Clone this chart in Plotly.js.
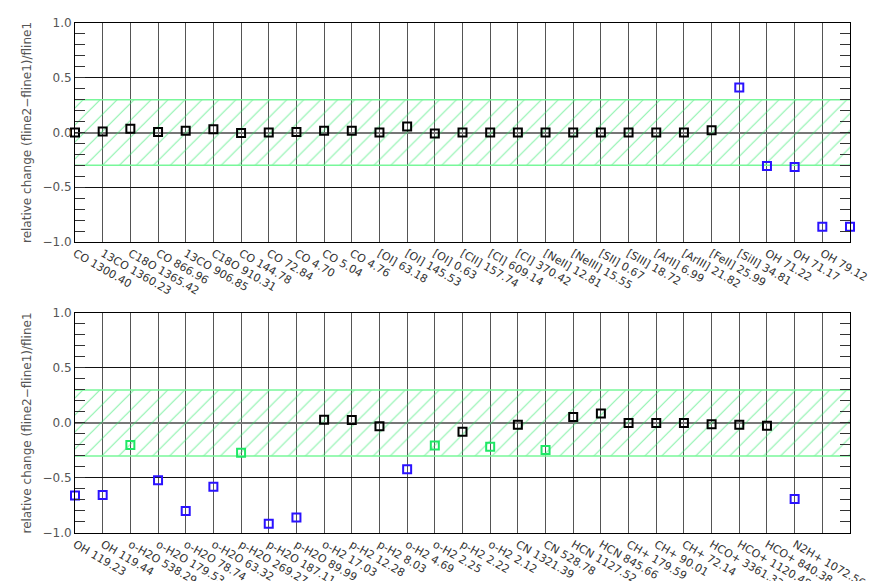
<!DOCTYPE html>
<html>
<head>
<meta charset="utf-8">
<script src="https://cdn.plot.ly/plotly-3.0.1.min.js"></script>
<style>html,body{margin:0;padding:0;background:#fff;}#chart{width:872px;height:581px;}</style>
</head>
<body>
<div id="chart"></div>
<script>
// ---- data ----
const topLabels = [
  "CO 1300.40", "13CO 1360.23", "C18O 1365.42", "CO 866.96", "13CO 906.85", "C18O 910.31",
  "CO 144.78", "CO 72.84", "CO 4.70", "CO 5.04", "CO 4.76", "[OI] 63.18", "[OI] 145.53",
  "[OI] 0.63", "[CII] 157.74", "[CI] 609.14", "[CI] 370.42", "[NeII] 12.81", "[NeIII] 15.55",
  "[SII] 0.67", "[SIII] 18.72", "[ArII] 6.99", "[ArIII] 21.82", "[FeII] 25.99", "[SiII] 34.81",
  "OH 71.22", "OH 71.17", "OH 79.12", "OH 79.18"
];
const topValues = [
  0.0, 0.01, 0.035, 0.005, 0.015, 0.03, -0.005, 0.0, 0.005, 0.015, 0.015, 0.0, 0.055,
  -0.01, 0.0, 0.0, 0.0, 0.0, 0.0, 0.0, 0.0, 0.0, 0.0, 0.02, 0.41,
  -0.305, -0.315, -0.86, -0.86
];
const bottomLabels = [
  "OH 119.23", "OH 119.44", "o-H2O 538.29", "o-H2O 179.53", "o-H2O 78.74", "o-H2O 63.32",
  "p-H2O 269.27", "p-H2O 187.11", "p-H2O 89.99", "o-H2 17.03", "p-H2 12.28", "p-H2 8.03",
  "o-H2 4.69", "o-H2 2.25", "p-H2 2.22", "o-H2 2.12", "CN 1321.39", "CN 528.78",
  "HCN 1127.52", "HCN 845.66", "CH+ 179.59", "CH+ 90.01", "CH+ 72.14", "HCO+ 3361.33",
  "HCO+ 1120.48", "HCO+ 840.38", "N2H+ 1072.56"
];
const bottomValues = [
  -0.66, -0.655, -0.20, -0.52, -0.80, -0.58, -0.27, -0.915, -0.86, 0.03, 0.027, -0.03,
  -0.42, -0.205, -0.08, -0.215, -0.015, -0.245, 0.055, 0.087, 0.0, 0.0, 0.0, -0.012,
  -0.015, -0.024, -0.69
];
const bandLimit = 0.3;      // tolerance band +/- 0.3
const smallLimit = 0.15;    // threshold between black and green markers

// ---- build ----
const nSlots = topLabels.length;
const slotIdx = Array.from({length: nSlots}, (_, i) => i);
const pad = arr => arr.concat(Array(nSlots - arr.length).fill(""));
const idxOf = arr => arr.map((_, i) => i);

function colorFor(v) {
  const a = Math.abs(v);
  if (a > bandLimit) return "#2a12ff";
  if (a >= smallLimit) return "#1fe865";
  return "#000000";
}

function bandTraces(xa, ya) {
  return [
    {x: [slotIdx[0], slotIdx[nSlots - 1]], y: [-bandLimit, -bandLimit], xaxis: xa, yaxis: ya,
     mode: "lines", line: {color: "#78f79a", width: 1.5}, hoverinfo: "skip"},
    {x: [slotIdx[0], slotIdx[nSlots - 1]], y: [bandLimit, bandLimit], xaxis: xa, yaxis: ya,
     mode: "lines", line: {color: "#78f79a", width: 1.5}, fill: "tonexty",
     fillcolor: "rgba(255,255,255,0)",
     fillpattern: {shape: "/", fgcolor: "#2ee86a", bgcolor: "rgba(255,255,255,0)",
                   size: 12, solidity: 0.1, fgopacity: 0.55},
     hoverinfo: "skip"}
  ];
}

function pointTrace(labels, values, xa, ya) {
  return {
    x: idxOf(labels), y: values, text: labels, xaxis: xa, yaxis: ya,
    mode: "markers", cliponaxis: false,
    marker: {symbol: "square-open", size: 8, color: values.map(colorFor),
             line: {width: 2, color: values.map(colorFor)}}
  };
}

const data = [
  ...bandTraces("x", "y"),
  pointTrace(topLabels, topValues, "x", "y"),
  ...bandTraces("x2", "y2"),
  pointTrace(bottomLabels, bottomValues, "x2", "y2")
];

const tickFontY = {family: "DejaVu Sans", size: 12, color: "#555"};
const tickFontX = {family: "DejaVu Sans", size: 11, color: "#333"};
const yTitle = "relative change (fline2\u2212fline1)/fline1";

function xAxis(anchor, labels) {
  return {
    anchor: anchor, range: [slotIdx[0], slotIdx[nSlots - 1]],
    tickmode: "array", tickvals: slotIdx, ticktext: pad(labels),
    tickangle: 30, tickfont: tickFontX, ticks: "",
    showgrid: true, gridcolor: "#555", gridwidth: 1,
    showline: true, mirror: true, linecolor: "#000", linewidth: 1,
    zeroline: false, automargin: false
  };
}
function yAxis(anchor, domain) {
  return {
    anchor: anchor, domain: domain, range: [-1, 1],
    tick0: 0, dtick: 0.5, tickformat: ".1f", tickfont: tickFontY,
    ticks: "inside", ticklen: 10, tickcolor: "#333",
    minor: {dtick: 0.1, ticks: "inside", ticklen: 10, tickcolor: "#333", showgrid: false},
    showgrid: true, gridcolor: "#111", gridwidth: 1,
    zeroline: true, zerolinecolor: "#777", zerolinewidth: 2,
    showline: true, mirror: "ticks", linecolor: "#000", linewidth: 1,
    title: {text: yTitle, font: {family: "DejaVu Sans", size: 12, color: "#555"}, standoff: 8},
    automargin: false
  };
}

const layout = {
  width: 872, height: 581,
  margin: {l: 75, r: 22, t: 23, b: 48},
  paper_bgcolor: "#fff", plot_bgcolor: "#fff",
  showlegend: false,
  xaxis: xAxis("y", topLabels),
  yaxis: yAxis("x", [0.5706, 1]),
  xaxis2: xAxis("y2", bottomLabels),
  yaxis2: yAxis("x2", [0, 0.4314])
};

Plotly.newPlot("chart", data, layout, {staticPlot: true, displayModeBar: false});
</script>
</body>
</html>
